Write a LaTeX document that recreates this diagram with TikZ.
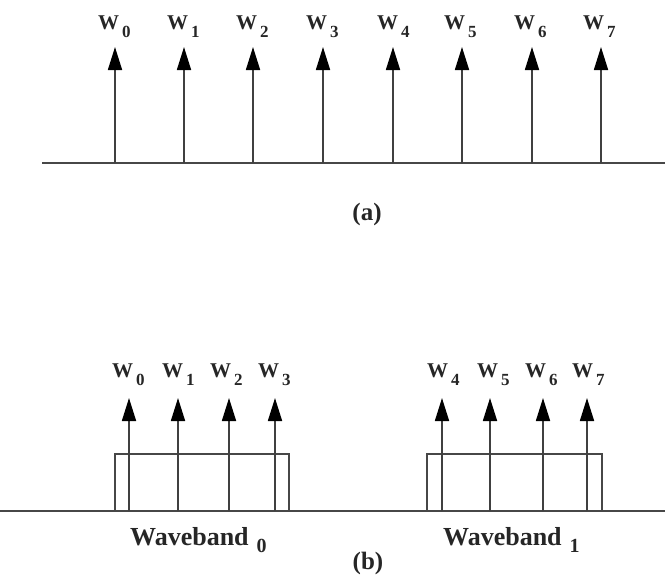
\documentclass[tikz,border=0pt]{standalone}
\usepackage{fontspec}
\setmainfont{Liberation Serif}
\usetikzlibrary{arrows.meta}
% subscript placed low and apart, as in the scan
\newcommand{\wsub}[1]{\kern3pt\raisebox{-8pt}{\fontsize{17}{17}\selectfont #1}}
\newcommand{\bandsub}[1]{\kern8pt\raisebox{-7pt}{\fontsize{20}{20}\selectfont #1}}
\begin{document}
\begin{tikzpicture}[x=1pt, y=-1pt,
    sig/.style={line width=1.7pt, draw=black!75, -{Triangle[length=23pt,width=14pt,color=black]}},
    axis/.style={line width=1.8pt, draw=black!72},
    band/.style={line width=1.4pt, draw=black!72},
    wlab/.style={anchor=base west, inner sep=0pt, text=black!85, font=\bfseries\fontsize{21}{21}\selectfont},
    figcap/.style={inner sep=0pt, text=black!85, font=\bfseries\fontsize{25}{25}\selectfont}]
  \useasboundingbox[fill=white] (0,0) rectangle (665,574);

  % ==================== (a) ====================
  \coordinate (la) at (42,163); \coordinate (ra) at (665,163);
  \draw[axis] (la) -- (ra);

  \coordinate (a0) at (115,163); \coordinate (ta0) at (115,47); \draw[sig] (a0) -- (ta0);
  \coordinate (a1) at (184,163); \coordinate (ta1) at (184,47); \draw[sig] (a1) -- (ta1);
  \coordinate (a2) at (253,163); \coordinate (ta2) at (253,47); \draw[sig] (a2) -- (ta2);
  \coordinate (a3) at (323,163); \coordinate (ta3) at (323,47); \draw[sig] (a3) -- (ta3);
  \coordinate (a4) at (393,163); \coordinate (ta4) at (393,47); \draw[sig] (a4) -- (ta4);
  \coordinate (a5) at (462,163); \coordinate (ta5) at (462,47); \draw[sig] (a5) -- (ta5);
  \coordinate (a6) at (532,163); \coordinate (ta6) at (532,47); \draw[sig] (a6) -- (ta6);
  \coordinate (a7) at (601,163); \coordinate (ta7) at (601,47); \draw[sig] (a7) -- (ta7);

  % labels sit a little left of each arrow
  \node[wlab] (wa0) at ([xshift=-17pt,yshift=18pt]ta0) {W\wsub{0}};
  \node[wlab] (wa1) at ([xshift=-17pt,yshift=18pt]ta1) {W\wsub{1}};
  \node[wlab] (wa2) at ([xshift=-17pt,yshift=18pt]ta2) {W\wsub{2}};
  \node[wlab] (wa3) at ([xshift=-17pt,yshift=18pt]ta3) {W\wsub{3}};
  \node[wlab] (wa4) at ([xshift=-16pt,yshift=18pt]ta4) {W\wsub{4}};
  \node[wlab] (wa5) at ([xshift=-18pt,yshift=18pt]ta5) {W\wsub{5}};
  \node[wlab] (wa6) at ([xshift=-18pt,yshift=18pt]ta6) {W\wsub{6}};
  \node[wlab] (wa7) at ([xshift=-18pt,yshift=18pt]ta7) {W\wsub{7}};

  \node[figcap] (capa) at (367,214) {(a)};

  % ==================== (b) ====================
  \coordinate (lb) at (0,511); \coordinate (rb) at (665,511);
  \draw[axis] (lb) -- (rb);

  % wavebands
  \draw[band] (115,511) |- (289,454) -- (289,511);
  \draw[band] (427,511) |- (602,454) -- (602,511);

  \coordinate (b0) at (129,511); \coordinate (tb0) at (129,398); \draw[sig] (b0) -- (tb0);
  \coordinate (b1) at (178,511); \coordinate (tb1) at (178,398); \draw[sig] (b1) -- (tb1);
  \coordinate (b2) at (229,511); \coordinate (tb2) at (229,398); \draw[sig] (b2) -- (tb2);
  \coordinate (b3) at (275,511); \coordinate (tb3) at (275,398); \draw[sig] (b3) -- (tb3);
  \coordinate (b4) at (442,511); \coordinate (tb4) at (442,398); \draw[sig] (b4) -- (tb4);
  \coordinate (b5) at (490,511); \coordinate (tb5) at (490,398); \draw[sig] (b5) -- (tb5);
  \coordinate (b6) at (543,511); \coordinate (tb6) at (543,398); \draw[sig] (b6) -- (tb6);
  \coordinate (b7) at (587,511); \coordinate (tb7) at (587,398); \draw[sig] (b7) -- (tb7);

  \node[wlab] (wb0) at ([xshift=-17pt,yshift=21pt]tb0) {W\wsub{0}};
  \node[wlab] (wb1) at ([xshift=-16pt,yshift=21pt]tb1) {W\wsub{1}};
  \node[wlab] (wb2) at ([xshift=-19pt,yshift=21pt]tb2) {W\wsub{2}};
  \node[wlab] (wb3) at ([xshift=-17pt,yshift=21pt]tb3) {W\wsub{3}};
  \node[wlab] (wb4) at ([xshift=-15pt,yshift=21pt]tb4) {W\wsub{4}};
  \node[wlab] (wb5) at ([xshift=-13pt,yshift=21pt]tb5) {W\wsub{5}};
  \node[wlab] (wb6) at ([xshift=-18pt,yshift=21pt]tb6) {W\wsub{6}};
  \node[wlab] (wb7) at ([xshift=-15pt,yshift=21pt]tb7) {W\wsub{7}};

  \node[wlab, font=\bfseries\fontsize{26}{26}\selectfont] (band0) at (130,545) {Waveband\bandsub{0}};
  \node[wlab, font=\bfseries\fontsize{26}{26}\selectfont] (band1) at (443,545) {Waveband\bandsub{1}};

  \node[figcap] (capb) at (368,563) {(b)};
\end{tikzpicture}
\end{document}
